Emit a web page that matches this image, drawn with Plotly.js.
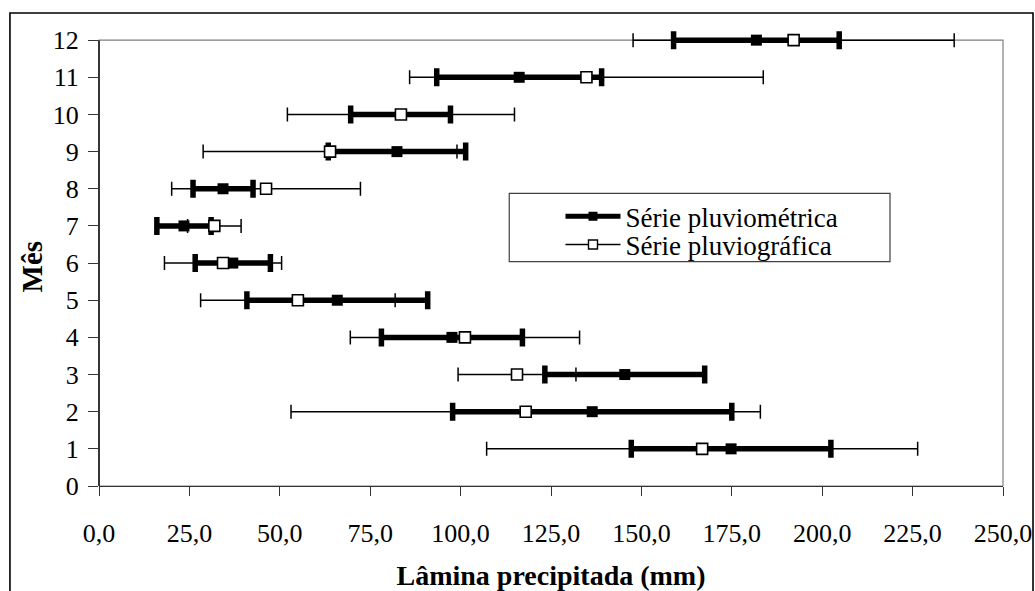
<!DOCTYPE html>
<html>
<head>
<meta charset="utf-8">
<script src="https://cdn.plot.ly/plotly-3.0.1.min.js"></script>
<style>html,body{margin:0;padding:0;background:#fff;}#chart{width:1035px;height:591px;}</style>
</head>
<body>
<div id="chart"></div>
<script>
// Months (y axis)
var months = [1, 2, 3, 4, 5, 6, 7, 8, 9, 10, 11, 12];
// Série pluviométrica: mean and half-interval (mm)
var pluviometricaMean = [174.8, 136.4, 145.4, 97.6, 65.9, 37.0, 23.5, 34.3, 82.4, 83.4, 116.2, 181.8];
var pluviometricaErr  = [27.6, 38.6, 22.1, 19.5, 25.0, 10.4, 7.5, 8.3, 19.0, 13.8, 22.8, 22.9];
// Série pluviográfica: mean and half-interval (mm)
var pluviograficaMean = [166.8, 118.0, 115.6, 101.2, 55.0, 34.3, 31.9, 46.2, 63.9, 83.5, 134.8, 192.1];
var pluviograficaErr  = [59.6, 64.9, 16.3, 31.7, 26.9, 16.2, 7.4, 26.1, 35.1, 31.4, 48.9, 44.4];
// Tick labels
var xTickVals = [0, 25, 50, 75, 100, 125, 150, 175, 200, 225, 250];
var xTickText = ["0,0", "25,0", "50,0", "75,0", "100,0", "125,0", "150,0", "175,0", "200,0", "225,0", "250,0"];
var yTickVals = [0, 1, 2, 3, 4, 5, 6, 7, 8, 9, 10, 11, 12];
var yTickText = ["0", "1", "2", "3", "4", "5", "6", "7", "8", "9", "10", "11", "12"];
var seriesNames = ["Série pluviométrica", "Série pluviográfica"];
var yMax = 12;

var serif = "Liberation Serif";

var traces = [
  {
    type: "scatter", mode: "markers", x: pluviometricaMean, y: months,
    name: seriesNames[0], showlegend: false, cliponaxis: false,
    marker: {symbol: "square", size: 11, color: "#000", line: {color: "#000", width: 0}},
    error_x: {type: "data", array: pluviometricaErr, visible: true, color: "#000", thickness: 5.5, width: 9}
  },
  {
    type: "scatter", mode: "markers", x: pluviograficaMean, y: months,
    name: seriesNames[1], showlegend: false, cliponaxis: false,
    marker: {symbol: "square", size: 11, color: "#fff", line: {color: "#000", width: 1.6}},
    error_x: {type: "data", array: pluviograficaErr, visible: true, color: "#000", thickness: 1.5, width: 7}
  },
  {
    type: "scatter", mode: "lines+markers", x: [null], y: [null],
    name: seriesNames[0], showlegend: true, legend: "legend",
    line: {color: "#000", width: 5},
    marker: {symbol: "square", size: 9, color: "#000"}
  },
  {
    type: "scatter", mode: "lines+markers", x: [null], y: [null],
    name: seriesNames[1], showlegend: true, legend: "legend2",
    line: {color: "#000", width: 1.5},
    marker: {symbol: "square", size: 9, color: "#fff", line: {color: "#000", width: 1.4}}
  }
];

var legendCommon = {
  xanchor: "left", yanchor: "middle",
  bgcolor: "rgba(0,0,0,0)", borderwidth: 0,
  font: {family: serif, size: 27, color: "#000"},
  itemwidth: 55
};

var layout = {
  width: 1035, height: 591,
  margin: {l: 99, r: 32, t: 29, b: 105},
  paper_bgcolor: "#fff", plot_bgcolor: "#fff",
  font: {family: serif, color: "#000", size: 26},
  showlegend: true,
  legend: Object.assign({x: 0.5105, y: 0.5893}, legendCommon),
  legend2: Object.assign({x: 0.5105, y: 0.5274}, legendCommon),
  xaxis: {
    range: [0, 250], tickmode: "array", tickvals: xTickVals, ticktext: xTickText,
    ticks: "outside", ticklen: 9, tickwidth: 1, tickcolor: "#333",
    showline: true, linecolor: "#333", linewidth: 1.2, showgrid: false, zeroline: false,
    tickfont: {family: serif, size: 26}, ticklabelstandoff: 15,
    title: {text: "<b>Lâmina precipitada (mm)</b>", font: {family: serif, size: 28}, standoff: 18}
  },
  yaxis: {
    range: [0, 12.3], tickmode: "array", tickvals: yTickVals, ticktext: yTickText,
    ticks: "outside", ticklen: 10, tickwidth: 1, tickcolor: "#333",
    showline: false, showgrid: false, zeroline: false,
    tickfont: {family: serif, size: 26}, ticklabelstandoff: 4
  },
  annotations: [
    {text: "<b>Mês</b>", xref: "paper", yref: "paper", x: -0.0736, y: 0.4814,
     xanchor: "center", yanchor: "middle", textangle: -90, showarrow: false,
     font: {family: serif, size: 29, color: "#000"}}
  ],
  shapes: [
    // plot area border (gray), top at month 12
    {type: "rect", xref: "paper", yref: "y", x0: 0, x1: 1, y0: 0, y1: yMax,
     line: {color: "#808080", width: 1.2}, layer: "below"},
    // y axis line
    {type: "line", xref: "paper", yref: "y", x0: 0, x1: 0, y0: 0, y1: yMax,
     line: {color: "#000", width: 1.4}, layer: "below"},
    // outer chart frame
    {type: "rect", xref: "paper", yref: "paper", x0: -0.0985, x1: 1.0332, y0: -0.3, y1: 1.035,
     line: {color: "#000", width: 1.6}, layer: "above"},
    // legend box
    {type: "rect", xref: "paper", yref: "paper", x0: 0.4538, x1: 0.8750, y0: 0.4908, y1: 0.6405,
     line: {color: "#404040", width: 1.2}, fillcolor: "rgba(0,0,0,0)", layer: "below"}
  ]
};

Plotly.newPlot("chart", traces, layout, {displayModeBar: false, staticPlot: true});
</script>
</body>
</html>
